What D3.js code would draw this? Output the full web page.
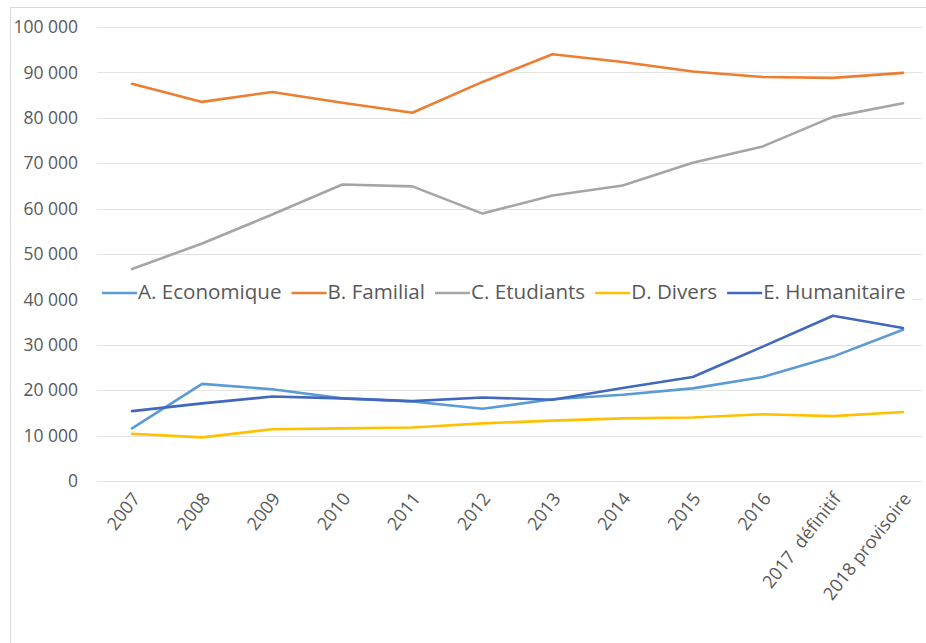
<!DOCTYPE html>
<html>
<head>
<meta charset="utf-8">
<script src="https://cdn.jsdelivr.net/npm/d3@7"></script>
<style>
  html, body { margin: 0; padding: 0; background: #fff; }
  svg { display: block; font-family: "Open Sans", "Noto Sans", sans-serif; }
  .xlabel { white-space: pre; }
</style>
</head>
<body>
<svg id="chart" width="926" height="643"></svg>
<script>
// Categories (years) and series values
const categories = ["2007", "2008", "2009", "2010", "2011", "2012", "2013", "2014", "2015", "2016", "2017  définitif", "2018 provisoire"];

const economique  = [11600, 21400, 20200, 18200, 17500, 15900, 18000, 19000, 20400, 22900, 27400, 33300];
const familial    = [87500, 83500, 85700, 83300, 81100, 87900, 94000, 92300, 90200, 89000, 88800, 89900];
const etudiants   = [46700, 52300, 58700, 65300, 64900, 58900, 62900, 65100, 70100, 73700, 80200, 83200];
const divers      = [10400, 9600, 11400, 11600, 11800, 12700, 13300, 13800, 14000, 14700, 14300, 15200];
const humanitaire = [15400, 17100, 18600, 18200, 17600, 18400, 17900, 20500, 22900, 29600, 36400, 33700];

const seriesNames = ["A. Economique", "B. Familial", "C. Etudiants", "D. Divers", "E. Humanitaire"];
const seriesColors = ["#5B9BD5", "#ED7D31", "#A5A5A5", "#FFC000", "#4068BE"];
const yTicks = [0, 10000, 20000, 30000, 40000, 50000, 60000, 70000, 80000, 90000, 100000];

const series = [economique, familial, etudiants, divers, humanitaire].map((vals, i) => ({
  name: seriesNames[i], color: seriesColors[i], values: vals
}));

const svg = d3.select("#chart");

// Chart frame (left and top edges visible)
svg.append("rect")
  .attr("x", 10.5).attr("y", 7.5)
  .attr("width", 940).attr("height", 660)
  .attr("fill", "#fff").attr("stroke", "#d9d9d9").attr("stroke-width", 1);

const plot = { left: 97, right: 938, top: 27, bottom: 481 };

const x = d3.scaleBand().domain(categories).range([plot.left, plot.right]);
const y = d3.scaleLinear().domain([0, 100000]).range([plot.bottom, plot.top]);
const xc = d => x(d) + x.bandwidth() / 2;

// Horizontal gridlines
svg.append("g")
  .selectAll("line").data(yTicks).join("line")
  .attr("x1", plot.left).attr("x2", 922)
  .attr("y1", d => Math.round(y(d)) + 0.5).attr("y2", d => Math.round(y(d)) + 0.5)
  .attr("stroke", "#e3e3e3").attr("stroke-width", 1.2);

// Y axis labels
const fmt = v => d3.format(",")(v).replace(/,/g, " ");
svg.append("g")
  .selectAll("text").data(yTicks).join("text")
  .attr("x", 78).attr("y", d => y(d))
  .attr("dy", "0.35em")
  .attr("text-anchor", "end")
  .attr("font-size", 17.5)
  .attr("fill", "#595959")
  .text(fmt);

// X axis labels, rotated
svg.append("g")
  .selectAll("text").data(categories).join("text")
  .attr("class", "xlabel")
  .attr("text-anchor", "end")
  .attr("font-size", 18)
  .attr("fill", "#595959")
  .attr("transform", d => `translate(${xc(d) + 9},${499}) rotate(-52)`)
  .text(d => d);

// Lines
const line = d3.line()
  .x((d, i) => xc(categories[i]))
  .y(d => y(d));

svg.append("g")
  .selectAll("path").data(series).join("path")
  .attr("d", s => line(s.values))
  .attr("fill", "none")
  .attr("stroke", s => s.color)
  .attr("stroke-width", 2.6)
  .attr("stroke-linejoin", "round")
  .attr("stroke-linecap", "round");

// Legend, with a white box behind it
const legend = svg.append("g");
legend.append("rect")
  .attr("x", 98).attr("y", 280).attr("width", 814).attr("height", 26)
  .attr("fill", "#fff");

const legendFont = 20.6;
let lx = 102;
series.forEach(s => {
  const g = legend.append("g");
  g.append("line")
    .attr("x1", lx).attr("x2", lx + 35)
    .attr("y1", 293).attr("y2", 293)
    .attr("stroke", s.color).attr("stroke-width", 2.6);
  const t = g.append("text")
    .attr("x", lx + 36).attr("y", 292)
    .attr("dy", "0.35em")
    .attr("font-size", legendFont)
    .attr("fill", "#595959")
    .text(s.name);
  lx += 36 + t.node().getComputedTextLength() + 10;
});
</script>
</body>
</html>
